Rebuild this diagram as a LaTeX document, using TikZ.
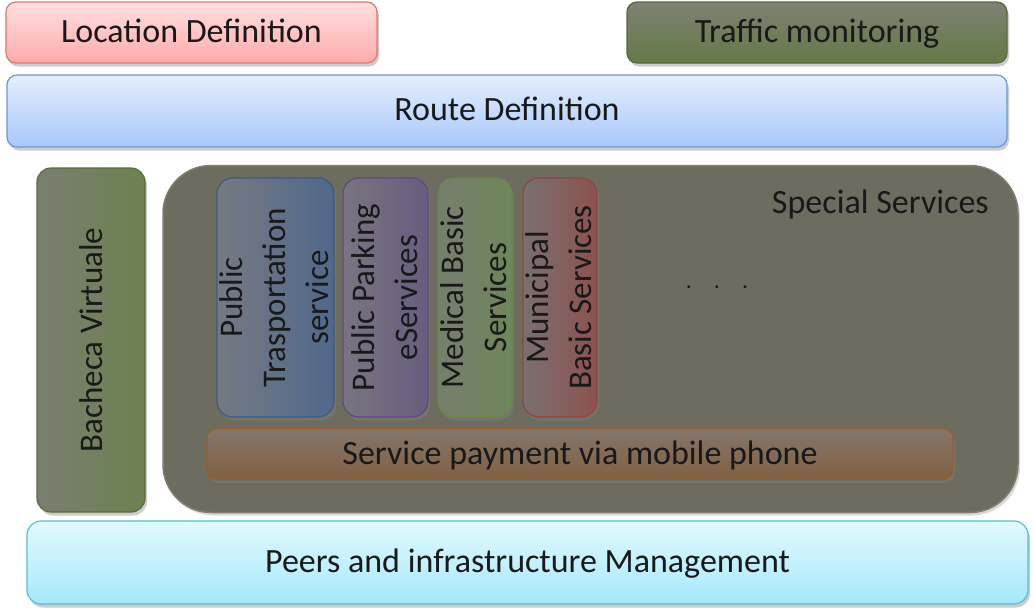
\documentclass[tikz,border=0pt]{standalone}
\usepackage{fontspec}
\setmainfont{Carlito}
\usetikzlibrary{shadows}
\definecolor{locTop}{RGB}{255,224,224}
\definecolor{locBot}{RGB}{255,170,170}
\definecolor{locDraw}{RGB}{222,118,118}
\definecolor{rtTop}{RGB}{228,238,254}
\definecolor{rtBot}{RGB}{168,200,250}
\definecolor{rtDraw}{RGB}{110,150,215}
\definecolor{trTop}{RGB}{126,129,114}
\definecolor{trBot}{RGB}{100,122,72}
\definecolor{trDraw}{RGB}{85,105,60}
\definecolor{peTop}{RGB}{226,249,255}
\definecolor{peBot}{RGB}{165,232,250}
\definecolor{peDraw}{RGB}{85,190,215}
\definecolor{bigGray}{RGB}{110,108,95}
\definecolor{bigDraw}{RGB}{128,126,114}
\definecolor{bachL}{RGB}{122,126,112}
\definecolor{bachR}{RGB}{108,130,80}
\definecolor{bachDraw}{RGB}{85,110,60}
\definecolor{ptL}{RGB}{118,122,130}
\definecolor{ptR}{RGB}{80,104,140}
\definecolor{ptDraw}{RGB}{60,90,130}
\definecolor{ppL}{RGB}{122,116,128}
\definecolor{ppR}{RGB}{105,92,128}
\definecolor{ppDraw}{RGB}{95,75,125}
\definecolor{mdL}{RGB}{118,126,110}
\definecolor{mdR}{RGB}{110,135,90}
\definecolor{mdDraw}{RGB}{105,135,75}
\definecolor{muL}{RGB}{122,112,112}
\definecolor{muR}{RGB}{140,82,78}
\definecolor{muDraw}{RGB}{140,70,70}
\definecolor{payTop}{RGB}{132,118,108}
\definecolor{payBot}{RGB}{130,96,66}
\definecolor{payDraw}{RGB}{150,92,45}
\definecolor{txt}{RGB}{25,25,25}
\tikzset{
  box/.style={rounded corners=10pt, inner sep=0pt, line width=1.2pt,
    drop shadow={shadow xshift=2pt, shadow yshift=-3.5pt, opacity=0.4}},
  svc/.style={box, rounded corners=16pt},
  lbl/.style={font=\fontsize{34}{43}\selectfont, text=txt, align=center, inner sep=0pt,
    text height=25pt, text depth=5pt},
  vlbl/.style={font=\fontsize{33}{43}\selectfont, text=txt, align=center, inner sep=0pt, rotate=90}
}
\begin{document}
\begin{tikzpicture}[x=1pt,y=-1pt]
\useasboundingbox (0,0) rectangle (1034,611);
% top row
\node[box, top color=locTop, bottom color=locBot, draw=locDraw,
  minimum width=371pt, minimum height=61pt] (loc) at (191.5,32.5) {};
\node[lbl] (loct) at (loc.center) {Location Definition};
\node[box, top color=trTop, bottom color=trBot, draw=trDraw,
  minimum width=380pt, minimum height=61pt] (tr) at (817,32.5) {};
\node[lbl] (trt) at (tr.center) {Traffic monitoring};
% route
\node[box, top color=rtTop, bottom color=rtBot, draw=rtDraw,
  minimum width=1000pt, minimum height=72pt] (rt) at (507,111) {};
\node[lbl] (rtt) at ([yshift=1pt]rt.center) {Route Definition};
% bacheca
\node[box, rounded corners=14pt, left color=bachL, right color=bachR, draw=bachDraw,
  minimum width=108pt, minimum height=344pt] (bach) at (91,340) {};
\node[vlbl] (bacht) at (bach.center) {Bacheca Virtuale};
% special services
\node[rounded corners=48pt, fill=bigGray, draw=bigDraw, line width=1.5pt, inner sep=0pt,
  drop shadow={shadow xshift=2pt, shadow yshift=-3pt, opacity=0.3},
  minimum width=855pt, minimum height=347pt] (ss) at (590.5,339) {};
\node[lbl, anchor=base east, text height=, text depth=] (sst) at (989,213) {Special Services};
% services
\node[svc, left color=ptL, right color=ptR, draw=ptDraw,
  minimum width=117pt, minimum height=239pt] (pt) at (275.5,297.5) {};
\node[vlbl] (ptt) at ([xshift=-1pt]pt.center) {Public\\Trasportation\\service};
\node[svc, left color=ppL, right color=ppR, draw=ppDraw,
  minimum width=85pt, minimum height=239pt] (pp) at (385.5,297.5) {};
\node[vlbl] (ppt) at ([xshift=-1pt]pp.center) {Public Parking\\eServices};
\node[svc, left color=mdL, right color=mdR, draw=mdDraw,
  minimum width=74pt, minimum height=239pt] (md) at (475,297.5) {};
\node[vlbl] (mdt) at ([xshift=-1pt]md.center) {Medical Basic\\Services};
\node[svc, left color=muL, right color=muR, draw=muDraw,
  minimum width=74pt, minimum height=239pt] (mu) at (560,297.5) {};
\node[vlbl] (mut) at ([xshift=-1pt]mu.center) {Municipal\\Basic Services};
\node[font=\fontsize{24}{28}\selectfont, text=txt, inner sep=0pt] (dots) at (717,287) {.\hspace{22pt}.\hspace{22pt}.};
% payment
\node[box, top color=payTop, bottom color=payBot, draw=payDraw,
  minimum width=746pt, minimum height=51pt] (pay) at (580,454) {};
\node[lbl] (payt) at (pay.center) {Service payment via mobile phone};
% peers
\node[box, rounded corners=14pt, top color=peTop, bottom color=peBot, draw=peDraw,
  minimum width=1001pt, minimum height=83pt] (pe) at (527.5,562.5) {};
\node[lbl] (pet) at (pe.center) {Peers and infrastructure Management};
\end{tikzpicture}
\end{document}
